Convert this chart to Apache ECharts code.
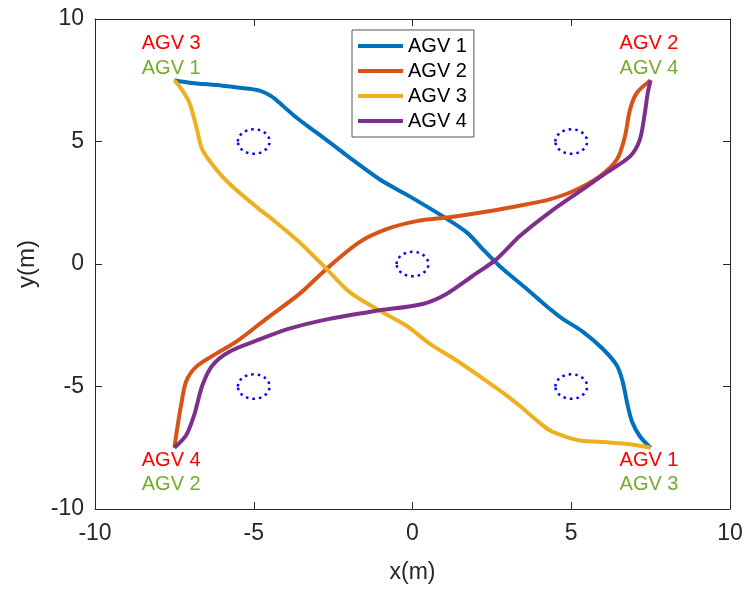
<!DOCTYPE html>
<html>
<head>
<meta charset="utf-8">
<script src="https://cdn.jsdelivr.net/npm/echarts@6/dist/echarts.min.js"></script>
<style>
  html, body { margin: 0; padding: 0; background: #fff; }
  #chart { width: 747px; height: 589px; }
</style>
</head>
<body>
<div id="chart"></div>
<script>
// trajectories, [x, y] in metres
const agv1 = [[-7.5, 7.5], [-7.03, 7.40], [-5.99, 7.28], [-5.14, 7.15], [-4.75, 7.05], [-4.45, 6.85], [-4.20, 6.59], [-3.66, 5.98], [-3.03, 5.37], [-2.40, 4.76], [-1.99, 4.35], [-1.04, 3.46], [-0.09, 2.76], [0.95, 1.95], [1.70, 1.30], [2.21, 0.61], [2.74, -0.08], [3.60, -1.02], [4.32, -1.83], [4.73, -2.24], [5.36, -2.76], [5.99, -3.46], [6.44, -4.15], [6.62, -4.80], [6.75, -5.61], [6.91, -6.42], [7.16, -7.03], [7.5, -7.5]]
const agv2 = [[-7.5, -7.5], [-7.41, -6.71], [-7.29, -5.77], [-7.13, -4.80], [-6.81, -4.19], [-6.18, -3.66], [-5.55, -3.17], [-4.61, -2.24], [-3.56, -1.22], [-2.71, -0.20], [-1.67, 0.89], [-0.82, 1.42], [0.13, 1.75], [1.17, 1.91], [2.21, 2.11], [3.28, 2.36], [4.32, 2.64], [5.05, 2.97], [5.90, 3.58], [6.44, 4.27], [6.69, 5.20], [6.85, 6.30], [7.07, 6.99], [7.5, 7.5]]
const agv3 = [[-7.5, 7.5], [-7.26, 7.11], [-7.03, 6.59], [-6.81, 5.61], [-6.62, 4.67], [-6.18, 3.86], [-5.68, 3.17], [-4.83, 2.24], [-4.42, 1.83], [-3.56, 0.89], [-2.71, -0.20], [-1.99, -1.14], [-1.14, -1.83], [-0.19, -2.52], [0.54, -3.25], [1.39, -3.94], [2.21, -4.67], [2.97, -5.37], [3.47, -5.89], [3.91, -6.38], [4.32, -6.79], [4.86, -7.07], [5.27, -7.20], [6.12, -7.28], [6.85, -7.36], [7.5, -7.5]]
const agv4 = [[-7.5, -7.5], [-7.13, -6.99], [-6.88, -6.18], [-6.62, -4.96], [-6.31, -4.15], [-5.77, -3.58], [-4.92, -3.13], [-3.88, -2.64], [-2.62, -2.24], [-1.14, -1.91], [0.32, -1.63], [1.07, -1.22], [1.89, -0.49], [2.65, 0.20], [3.38, 1.14], [4.32, 2.11], [5.36, 3.05], [6.12, 3.74], [6.85, 4.39], [7.16, 5.08], [7.32, 6.18], [7.41, 6.99], [7.5, 7.5]]

const agvNames = ['AGV 1', 'AGV 2', 'AGV 3', 'AGV 4']

// obstacles: centre x, centre y, radius
const obstacleX = [-5, 5, 0, -5, 5]
const obstacleY = [5, 5, 0, -5, -5]
const obstacleR = [0.5, 0.5, 0.5, 0.5, 0.5]

// corner labels
const goalText = ['AGV 3', 'AGV 2', 'AGV 4', 'AGV 1']
const goalX = [-7.6, 7.45, -7.6, 7.45]
const goalY = [9, 9, -8, -8]
const startText = ['AGV 1', 'AGV 4', 'AGV 2', 'AGV 3']
const startX = [-7.6, 7.45, -7.6, 7.45]
const startY = [8, 8, -9, -9]

const axisTicks = [-10, -5, 0, 5, 10]

const colors = ['#0072BD', '#D95319', '#EDB120', '#7E2F8E']
const font = 'Liberation Sans, Arial, Helvetica, sans-serif'
const axisColor = '#262626'

const chart = echarts.init(document.getElementById('chart'))

const baseAxis = {
  type: 'value',
  min: axisTicks[0],
  max: axisTicks[axisTicks.length - 1],
  interval: axisTicks[1] - axisTicks[0],
  splitLine: { show: false },
  axisLine: { show: true, onZero: false, lineStyle: { color: axisColor, width: 1 } },
  axisTick: { show: true, inside: true, length: 7, lineStyle: { color: axisColor, width: 1 } }
}

const trajSeries = [agv1, agv2, agv3, agv4].map((d, i) => ({
  name: agvNames[i],
  type: 'line',
  data: d,
  smooth: 0.3,
  showSymbol: false,
  symbol: 'none',
  lineStyle: { color: colors[i], width: 4 },
  itemStyle: { color: colors[i] },
  z: 3
}))

const obstacleSeries = {
  type: 'custom',
  data: obstacleX.map((x, i) => [x, obstacleY[i], obstacleR[i]]),
  renderItem: (params, api) => {
    const c = api.coord([api.value(0), api.value(1)])
    const s = api.size([api.value(2), api.value(2)])
    return {
      type: 'ellipse',
      shape: { cx: c[0], cy: c[1], rx: s[0], ry: s[1] },
      style: { fill: 'none', stroke: '#0000FF', lineWidth: 2.5, lineDash: [2.5, 4] }
    }
  },
  silent: true,
  z: 2
}

const labelSeries = (xs, ys, texts, color) => ({
  type: 'scatter',
  symbolSize: 0,
  itemStyle: { opacity: 1 },
  data: xs.map((x, i) => ({ value: [x, ys[i]], name: texts[i] })),
  label: {
    show: true,
    position: 'inside',
    formatter: '{b}',
    color: color,
    opacity: 1,
    fontSize: 20,
    fontFamily: font
  },
  silent: true,
  z: 4
})

const option = {
  backgroundColor: '#fff',
  animation: false,
  grid: { left: 95, right: 17, top: 19, bottom: 78 },
  legend: {
    data: agvNames,
    orient: 'vertical',
    left: 352,
    top: 30,
    icon: 'rect',
    itemWidth: 45,
    itemHeight: 4,
    itemGap: 5,
    padding: [6, 7, 6, 6],
    backgroundColor: '#fff',
    borderColor: '#555',
    borderWidth: 1,
    borderRadius: 0,
    textStyle: { fontSize: 20, color: '#000', fontFamily: font }
  },
  xAxis: [
    Object.assign({}, baseAxis, {
      position: 'bottom',
      name: 'x(m)',
      nameLocation: 'middle',
      nameGap: 52,
      nameTextStyle: { fontSize: 23, color: axisColor, fontFamily: font },
      axisLabel: { fontSize: 23, color: axisColor, margin: 13, fontFamily: font }
    }),
    Object.assign({}, baseAxis, { position: 'top', axisLabel: { show: false } })
  ],
  yAxis: [
    Object.assign({}, baseAxis, {
      position: 'left',
      name: 'y(m)',
      nameLocation: 'middle',
      nameGap: 52,
      nameTextStyle: { fontSize: 24, color: axisColor, fontFamily: font },
      axisLabel: { fontSize: 23, color: axisColor, margin: 11, fontFamily: font }
    }),
    Object.assign({}, baseAxis, { position: 'right', axisLabel: { show: false } })
  ],
  series: [
    ...trajSeries,
    obstacleSeries,
    labelSeries(goalX, goalY, goalText, '#FF0000'),
    labelSeries(startX, startY, startText, '#77AC30')
  ]
}

chart.setOption(option)
</script>
</body>
</html>
